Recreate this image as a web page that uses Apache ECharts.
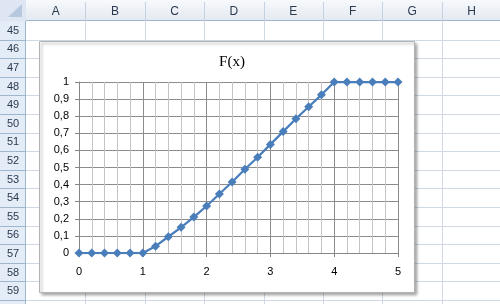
<!DOCTYPE html>
<html>
<head>
<meta charset="utf-8">
<script src="https://cdn.jsdelivr.net/npm/echarts@6/dist/echarts.min.js"></script>
<style>
html,body{margin:0;padding:0;background:#fff;}
#c{width:500px;height:304px;}
</style>
</head>
<body>
<div id="c"></div>
<script>
// ---- data ----
const chartTitle = 'F(x)';
const xValues = [0,0.2,0.4,0.6,0.8,1,1.2,1.4,1.6,1.8,2,2.2,2.4,2.6,2.8,3,3.2,3.4,3.6,3.8,4,4.2,4.4,4.6,4.8,5];
const fValues = [0,0,0,0,0,0,0.04,0.095,0.15,0.21,0.275,0.345,0.415,0.49,0.56,0.635,0.71,0.785,0.855,0.925,1,1,1,1,1,1];
const xTickLabels = ['0','1','2','3','4','5'];
const yTickLabels = ['0','0,1','0,2','0,3','0,4','0,5','0,6','0,7','0,8','0,9','1'];
const colLabels = ['A','B','C','D','E','F','G','H'];
const rowLabels = ['45','46','47','48','49','50','51','52','53','54','55','56','57','58','59'];

// ---- spreadsheet background (layout only) ----
const hdrH = 21, rowHdrW = 26, colW = 59.4, rowH = 18.6;
const els = [];
// cell gridlines
for (let i = 1; i <= colLabels.length; i++) {
  const x = Math.round(rowHdrW + i * colW) + 0.5;
  els.push({type:'line', z:-20, shape:{x1:x,y1:hdrH,x2:x,y2:304}, style:{stroke:'#d0d7e5',lineWidth:1}});
}
for (let k = 1; k <= rowLabels.length + 1; k++) {
  const y = Math.round(hdrH + k * rowH) + 0.5;
  els.push({type:'line', z:-20, shape:{x1:rowHdrW,y1:y,x2:500,y2:y}, style:{stroke:'#d0d7e5',lineWidth:1}});
}
// column header
els.push({type:'rect', z:-15, shape:{x:0,y:0,width:500,height:hdrH},
  style:{fill:{type:'linear',x:0,y:0,x2:0,y2:1,colorStops:[{offset:0,color:'#f7f9fc'},{offset:1,color:'#e3e9f1'}]}}});
els.push({type:'line', z:-14, shape:{x1:0,y1:hdrH-0.5,x2:500,y2:hdrH-0.5}, style:{stroke:'#9eb6ce',lineWidth:1}});
colLabels.forEach((c, i) => {
  const x0 = rowHdrW + i * colW;
  const xr = Math.round(x0 + colW) + 0.5;
  els.push({type:'line', z:-14, shape:{x1:xr,y1:2,x2:xr,y2:hdrH}, style:{stroke:'#c5d1de',lineWidth:1}});
  els.push({type:'text', z:-13, style:{text:c, x:x0 + colW/2, y:hdrH/2 + 1, textAlign:'center', textVerticalAlign:'middle',
    font:'12px "Liberation Sans", sans-serif', fill:'#2b3a4e'}});
});
// row header
els.push({type:'rect', z:-15, shape:{x:0,y:hdrH,width:rowHdrW,height:304-hdrH},
  style:{fill:'#e4ecf7'}});
els.push({type:'line', z:-14, shape:{x1:rowHdrW-0.5,y1:0,x2:rowHdrW-0.5,y2:304}, style:{stroke:'#9eb6ce',lineWidth:1}});
rowLabels.concat(['']).forEach((r, k) => {
  const y0 = hdrH + k * rowH;
  const yb = Math.round(y0 + rowH) + 0.5;
  els.push({type:'line', z:-14, shape:{x1:0,y1:yb,x2:rowHdrW,y2:yb}, style:{stroke:'#9eb6ce',lineWidth:1}});
  if (r) els.push({type:'text', z:-13, style:{text:r, x:rowHdrW/2, y:y0 + rowH/2 + 0.5, textAlign:'center', textVerticalAlign:'middle',
    font:'11px "Liberation Sans", sans-serif', fill:'#2b3a4e'}});
});
// corner
els.push({type:'rect', z:-14, shape:{x:0,y:0,width:rowHdrW,height:hdrH}, style:{fill:'#dde6f2'}});
els.push({type:'polygon', z:-13, shape:{points:[[rowHdrW-4,4],[rowHdrW-4,hdrH-4],[rowHdrW-18,hdrH-4]]}, style:{fill:'#b6c8dd'}});
// chart area box
els.push({type:'rect', z:-5, shape:{x:39.5,y:41.5,width:375,height:251},
  style:{fill:'#ffffff', stroke:'#b3b3b3', lineWidth:1, shadowBlur:3, shadowOffsetX:2, shadowOffsetY:2, shadowColor:'rgba(0,0,0,0.35)'}});

const chart = echarts.init(document.getElementById('c'), null, {renderer:'canvas'});
chart.setOption({
  animation: false,
  backgroundColor: '#ffffff',
  graphic: { elements: els },
  title: {
    text: chartTitle, left: 227, top: 50, textAlign: 'center',
    textStyle: {fontFamily:'"Liberation Serif", serif', fontSize:15, fontWeight:'normal', color:'#000'}
  },
  grid: {left: 79, top: 82, right: 102, bottom: 51, containLabel: false},
  xAxis: {
    type: 'value', min: 0, max: 5, interval: 1,
    axisLine: {show:true, lineStyle:{color:'#868686', width:1}},
    axisTick: {show:true, inside:false, length:4, lineStyle:{color:'#868686'}},
    axisLabel: {margin: 13, color:'#000', fontFamily:'"Liberation Sans", sans-serif', fontSize:11,
      formatter: v => xTickLabels[Math.round(v)]},
    splitLine: {show:true, lineStyle:{color:'#8c8c8c', width:1}},
    minorTick: {show:false, splitNumber:5},
    minorSplitLine: {show:true, lineStyle:{color:'#c4c4c4', width:1}}
  },
  yAxis: {
    type: 'value', min: 0, max: 1, interval: 0.1,
    axisLine: {show:true, lineStyle:{color:'#868686', width:1}},
    axisTick: {show:true, inside:false, length:4, lineStyle:{color:'#868686'}},
    axisLabel: {margin: 10, color:'#000', fontFamily:'"Liberation Sans", sans-serif', fontSize:11,
      formatter: v => yTickLabels[Math.round(v * 10)]},
    splitLine: {show:true, lineStyle:{color:'#8c8c8c', width:1}}
  },
  series: [{
    type: 'line',
    data: xValues.map((x, i) => [x, fValues[i]]),
    symbol: 'diamond', symbolSize: 9,
    lineStyle: {color:'#4a7ebb', width:2.25},
    itemStyle: {color:'#4a7ebb'},
    z: 5
  }]
});
</script>
</body>
</html>
